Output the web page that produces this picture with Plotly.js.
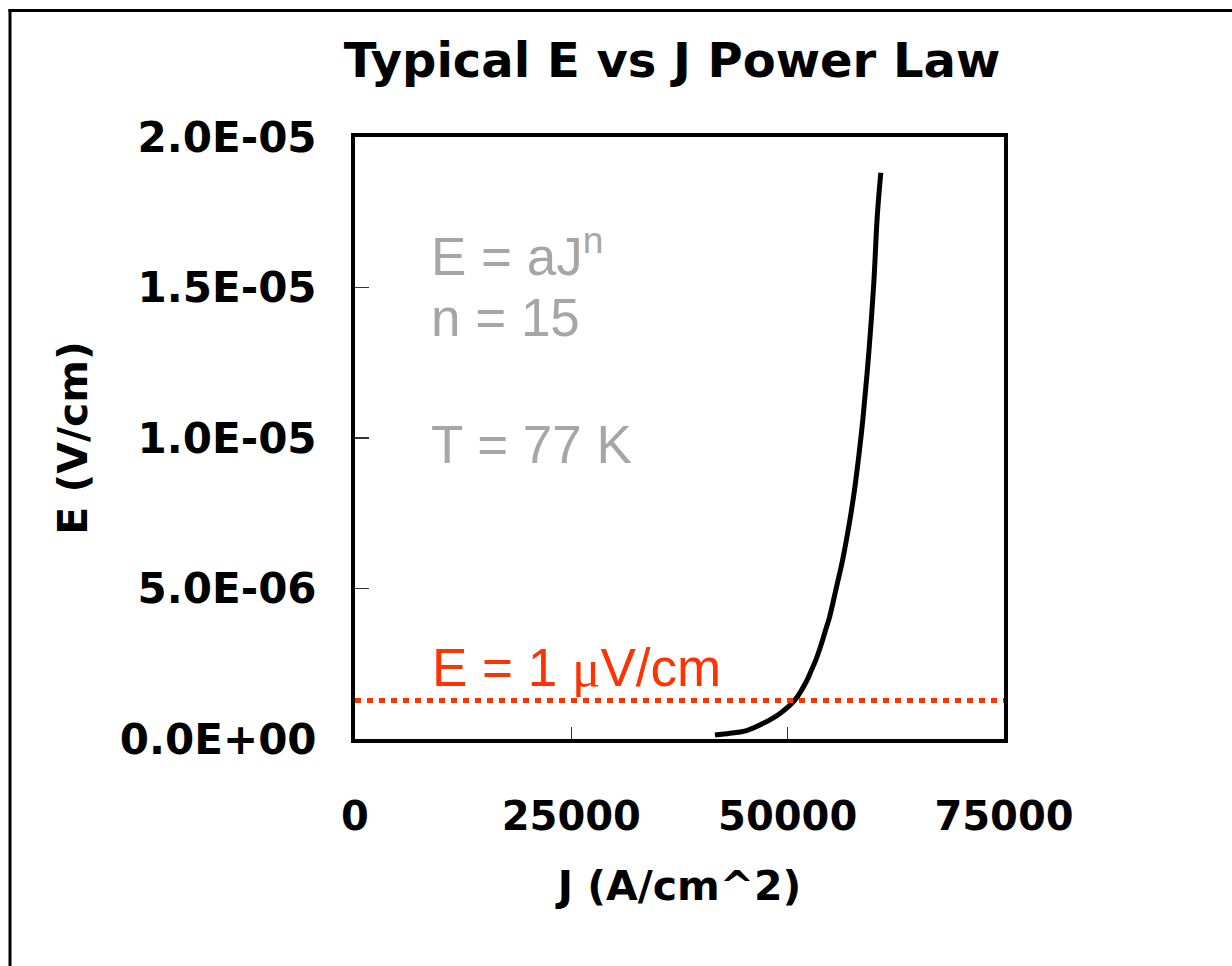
<!DOCTYPE html>
<html>
<head>
<meta charset="utf-8">
<script src="https://cdn.plot.ly/plotly-3.0.1.min.js"></script>
<style>
html,body{margin:0;padding:0;background:#fff;}
#chart{width:1232px;height:966px;}
</style>
</head>
<body>
<div id="chart"></div>
<script>
// Data
const currentDensity = [41600, 43330, 45260, 47180, 49110, 50850, 52250, 52750, 53250, 53800, 54500, 54850, 55650, 56350, 57250, 57720, 58300, 58720, 59400, 59950, 60350, 60760];
const electricField = [0.13e-6, 0.19e-6, 0.28e-6, 0.52e-6, 0.85e-6, 1.30e-6, 1.96e-6, 2.29e-6, 2.62e-6, 3.07e-6, 3.73e-6, 4.06e-6, 5.06e-6, 5.95e-6, 7.38e-6, 8.27e-6, 9.60e-6, 10.71e-6, 12.92e-6, 15.14e-6, 17.35e-6, 18.81e-6];
const criterionX = [0, 75000];
const criterionY = [1.28e-6, 1.28e-6];
const xTickVals = [0, 25000, 50000, 75000];
const xTickText = ["0", "25000", "50000", "75000"];
const yTickVals = [0, 5e-6, 1e-5, 1.5e-5, 2e-5];
const yTickText = ["0.0E+00", "5.0E-06", "1.0E-05", "1.5E-05", "2.0E-05"];

const boldFont = "DejaVu Sans, Arial, sans-serif";
const plainFont = "Liberation Sans, Arial, sans-serif";

const traces = [
  {
    x: currentDensity, y: electricField, type: "scatter", mode: "lines",
    line: {color: "#000000", width: 5, shape: "spline", smoothing: 1},
    hoverinfo: "skip", showlegend: false
  },
  {
    x: criterionX, y: criterionY, type: "scatter", mode: "lines",
    line: {color: "#ff3300", width: 5, dash: "6px,6px"},
    hoverinfo: "skip", showlegend: false
  }
];

// pixel helpers for paper coordinates (plot area 355..1004 x 137..739)
const L = 355, R = 1004, T = 137, B = 739;
const px = v => (v - L) / (R - L);
const py = v => (B - v) / (B - T);

const layout = {
  width: 1232, height: 966,
  margin: {l: L, r: 1232 - R, t: T, b: 966 - B, pad: 0},
  paper_bgcolor: "#ffffff", plot_bgcolor: "#ffffff",
  title: {
    text: "Typical E vs J Power Law",
    font: {family: boldFont, size: 48, color: "#000000", weight: "bold"},
    x: 672 / 1232, xanchor: "center", xref: "container",
    y: 1 - 60 / 966, yanchor: "middle", yref: "container"
  },
  xaxis: {
    range: [0, 75000], tickvals: xTickVals, ticktext: xTickText,
    ticks: "inside", ticklen: 12, tickwidth: 1.5, tickcolor: "#333333",
    showline: true, linewidth: 4, linecolor: "#000000", mirror: true,
    showgrid: false, zeroline: false,
    tickfont: {family: boldFont, size: 40, color: "#000000", weight: "bold"},
    ticklabelstandoff: 39,
    title: {
      text: "J (A/cm^2)", standoff: 34,
      font: {family: boldFont, size: 41, color: "#000000", weight: "bold"}
    }
  },
  yaxis: {
    range: [0, 2e-5], tickvals: yTickVals, ticktext: yTickText,
    ticks: "inside", ticklen: 14, tickwidth: 1.5, tickcolor: "#333333",
    showline: true, linewidth: 4, linecolor: "#000000", mirror: true,
    showgrid: false, zeroline: false,
    tickfont: {family: boldFont, size: 42, color: "#000000", weight: "bold"},
    ticklabelstandoff: 26,
    title: {
      text: "E (V/cm)", standoff: 21,
      font: {family: boldFont, size: 41, color: "#000000", weight: "bold"}
    }
  },
  annotations: [
    {text: "E = aJ<sup>n</sup>", xref: "paper", yref: "paper", x: px(429), y: py(252),
     xanchor: "left", yanchor: "middle", showarrow: false,
     font: {family: plainFont, size: 53, color: "#a6a6a6"}},
    {text: "n = 15", xref: "paper", yref: "paper", x: px(429), y: py(317),
     xanchor: "left", yanchor: "middle", showarrow: false,
     font: {family: plainFont, size: 53, color: "#a6a6a6"}},
    {text: "T = 77 K", xref: "paper", yref: "paper", x: px(429), y: py(444),
     xanchor: "left", yanchor: "middle", showarrow: false,
     font: {family: plainFont, size: 53, color: "#a6a6a6"}},
    {text: "E = 1 <span style=\"font-family:'Liberation Serif',serif\">μ</span>V/cm", xref: "paper", yref: "paper", x: px(430), y: py(667),
     xanchor: "left", yanchor: "middle", showarrow: false,
     font: {family: plainFont, size: 53, color: "#ff3300"}}
  ],
  shapes: [
    {type: "line", xref: "paper", yref: "paper", x0: px(8.5), x1: px(1240), y0: py(10.5), y1: py(10.5),
     line: {color: "#000000", width: 3}},
    {type: "line", xref: "paper", yref: "paper", x0: px(10), x1: px(10), y0: py(9), y1: py(975),
     line: {color: "#000000", width: 3}}
  ]
};

Plotly.newPlot("chart", traces, layout, {displayModeBar: false, staticPlot: true});
</script>
</body>
</html>
